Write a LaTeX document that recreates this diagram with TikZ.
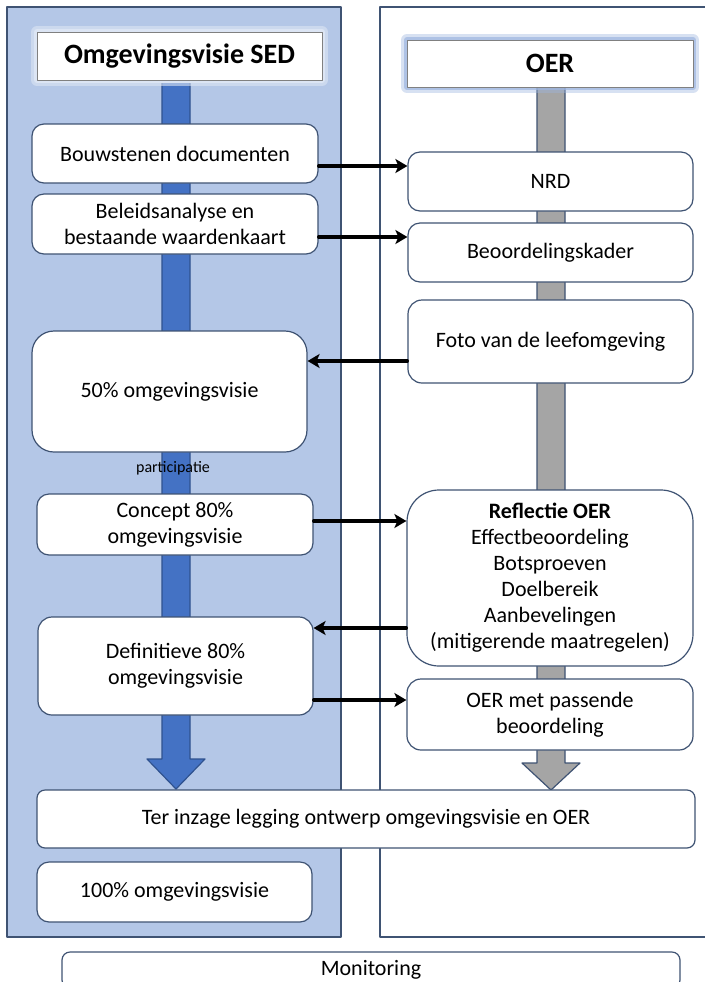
\documentclass[tikz,border=0pt]{standalone}
\usepackage{fontspec}
\setmainfont{Carlito}
\usepackage{tikz}
\usetikzlibrary{arrows.meta}
\definecolor{PanelBlue}{HTML}{B4C7E7}
\definecolor{LineCol}{HTML}{3F5373}
\definecolor{ArrowBlue}{HTML}{4472C4}
\definecolor{ArrowBlueEdge}{HTML}{2F528F}
\definecolor{ArrowGray}{HTML}{A5A5A5}
\definecolor{GlowLeft}{HTML}{DCE5F4}
\definecolor{GlowRight}{HTML}{9DB5E0}
\newcommand{\BodyFont}{\fontsize{11}{13}\selectfont}

\begin{document}
\begin{tikzpicture}[line cap=round,line join=round,>={Stealth[length=6pt,width=7pt,inset=1.5pt]},
  x=0.5pt,y=-0.5pt,
  box/.style={draw=LineCol,line width=0.6pt,fill=white,rounded corners=6pt,
    align=center,inner sep=0pt,font=\BodyFont},
  head/.style={draw=gray,line width=0.5pt,fill=white,inner sep=0pt,
    font=\fontsize{14}{16}\selectfont\bfseries},
  flow/.style={->,line width=1.6pt,black}]
  \useasboundingbox (0,0) rectangle (705,982);
  % panels
  \draw [fill=PanelBlue,draw=LineCol,line width=0.8pt] (7,7) rectangle (341,937);
  \draw [fill=white,draw=LineCol,line width=0.8pt] (380,7) rectangle (715,937);
  % big arrows
  \draw [fill=ArrowBlue,draw=ArrowBlueEdge,line width=0.6pt]
    (162,80) -- (190,80) -- (190,759) -- (205,759) -- (176,789)
    -- (147,759) -- (162,759) -- cycle;
  \draw [fill=ArrowGray,draw=LineCol,line width=0.6pt]
    (537,87) -- (565,87) -- (565,763) -- (580,763) -- (551,790)
    -- (522,763) -- (537,763) -- cycle;
  % headers with glow
  \draw [GlowLeft,line width=6pt,opacity=.6] (37,32) rectangle (322,80);
  \draw [GlowLeft,line width=3pt] (37,32) rectangle (322,80);
  \node[head,minimum width=142.5pt,minimum height=24pt] (sedhead) at (179.5,56) {Omgevingsvisie SED};
  \draw [GlowRight,line width=6pt,opacity=.4] (407,40) rectangle (693,87);
  \draw [GlowRight,line width=3pt,opacity=.7] (407,40) rectangle (693,87);
  \node[head,minimum width=143pt,minimum height=23.5pt] (oerhead) at (550,63.5) {OER};
  % left column
  \node[box,minimum width=143pt,minimum height=29.5pt] (bouw) at (175,153.5) {Bouwstenen documenten};
  \node[box,minimum width=143pt,minimum height=30pt] (beleid) at (175,224) {Beleidsanalyse en\\bestaande waardenkaart};
  \node[box,rounded corners=11pt,minimum width=137.5pt,minimum height=60.5pt] (half) at (169.5,391.5) {50\% omgevingsvisie};
  \node[font=\fontsize{8}{9}\selectfont,inner sep=0pt] (partic) at (173,468) {participatie};
  \node[box,minimum width=138pt,minimum height=30.5pt] (concept) at (175,524.5) {Concept 80\%\\omgevingsvisie};
  \node[box,rounded corners=7pt,minimum width=137.5pt,minimum height=49pt] (defin) at (175.5,666) {Definitieve 80\%\\omgevingsvisie};
  \node[box,rounded corners=4pt,minimum width=329pt,minimum height=29pt] (inzage) at (366,819) {Ter inzage legging ontwerp omgevingsvisie en OER};
  \node[box,minimum width=137.5pt,minimum height=30pt] (full) at (174.5,892) {100\% omgevingsvisie};
  \node[box,rounded corners=4pt,minimum width=309pt,minimum height=18pt] (monit) at (371,970) {Monitoring};
  % right column
  \node[box,minimum width=142.5pt,minimum height=29.5pt] (nrd) at (550.5,181.5) {NRD};
  \node[box,minimum width=142.5pt,minimum height=29.5pt] (beoord) at (550.5,252.5) {Beoordelingskader};
  \node[box,rounded corners=7pt,minimum width=142.5pt,minimum height=41.5pt] (foto) at (550.5,341.5) {Foto van de leefomgeving};
  \node[box,rounded corners=16pt,minimum width=143pt,minimum height=88pt] (refl) at (550,578)
    {\textbf{Reflectie OER}\\Effectbeoordeling\\Botsproeven\\Doelbereik\\Aanbevelingen\\(mitigerende maatregelen)};
  \node[box,rounded corners=7pt,minimum width=143pt,minimum height=35.5pt] (oermet) at (550,714.5) {OER met passende\\beoordeling};
  % connectors
  \draw [flow] ([yshift=-6.25pt]bouw.east) -- ([yshift=-6.25pt]bouw.east -| nrd.west);
  \draw [flow] ([yshift=-6.5pt]beleid.east) -- ([yshift=-6.5pt]beleid.east -| beoord.west);
  \draw [flow] ([yshift=-9.75pt]foto.west) -- ([yshift=-9.75pt]foto.west -| half.east);
  \draw [flow] ([yshift=1.75pt]concept.east) -- ([yshift=1.75pt]concept.east -| refl.west);
  \draw [flow] ([yshift=-25pt]refl.west) -- ([yshift=-25pt]refl.west -| defin.east);
  \draw [flow] ([yshift=-17pt]defin.east) -- ([yshift=-17pt]defin.east -| oermet.west);
\end{tikzpicture}
\end{document}
